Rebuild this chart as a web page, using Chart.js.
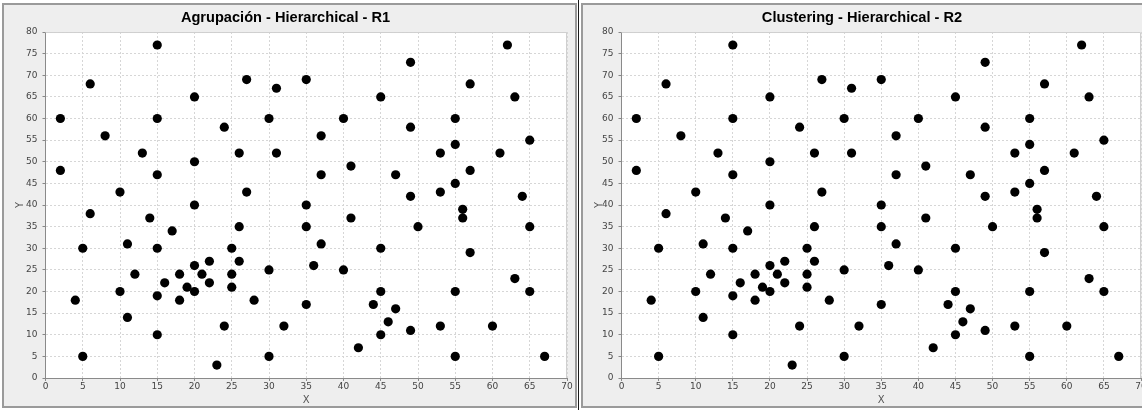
<!DOCTYPE html>
<html>
<head>
<meta charset="utf-8">
<script src="https://cdn.jsdelivr.net/npm/chart.js@4"></script>
<style>
    html, body { margin: 0; padding: 0; background: #fff; overflow: hidden; }
    body { width: 1142px; height: 410px; position: relative; }
    .panel {
        position: absolute;
        top: 3px;
        height: 405px;
        box-sizing: border-box;
        border: 2px solid #9a9a9a;
        background: #eeeeee;
    }
    .panel canvas { display: block; }
    #divider { position: absolute; left: 578px; top: 0; width: 1px; height: 410px; background: #1a1a1a; }
</style>
</head>
<body>
<div class="panel" style="left:2px; width:575px;"><canvas id="chartR1" width="571" height="401"></canvas></div>
<div id="divider"></div>
<div class="panel" style="left:581px; width:570px;"><canvas id="chartR2" width="566" height="401"></canvas></div>

<script>
// Point coordinates (same sample plotted in both panels)
const xValues = [2, 2, 4, 5, 5, 6, 6, 8, 10, 10,
    11, 11, 12, 13, 14, 15, 15, 15, 15, 15,
    15, 16, 17, 18, 18, 19, 20, 20, 20, 20,
    20, 21, 22, 22, 23, 24, 24, 25, 25, 25,
    26, 26, 26, 27, 27, 28, 30, 30, 30, 31,
    31, 32, 35, 35, 35, 35, 36, 37, 37, 37,
    40, 40, 41, 41, 42, 44, 45, 45, 45, 45,
    46, 47, 47, 49, 49, 49, 49, 50, 53, 53,
    53, 55, 55, 55, 55, 55, 56, 56, 57, 57,
    57, 60, 61, 62, 63, 63, 64, 65, 65, 65,
    67];
const yValues = [60, 48, 18, 30, 5, 68, 38, 56, 43, 20,
    31, 14, 24, 52, 37, 77, 60, 47, 30, 19,
    10, 22, 34, 24, 18, 21, 65, 50, 40, 26,
    20, 24, 27, 22, 3, 58, 12, 30, 24, 21,
    52, 35, 27, 69, 43, 18, 60, 25, 5, 67,
    52, 12, 69, 40, 35, 17, 26, 56, 47, 31,
    60, 25, 49, 37, 7, 17, 65, 30, 20, 10,
    13, 47, 16, 73, 58, 42, 11, 35, 52, 43,
    12, 60, 54, 45, 20, 5, 39, 37, 68, 48,
    29, 12, 52, 77, 65, 23, 42, 55, 35, 20,
    5];

const chartTitles = ['Agrupación - Hierarchical - R1', 'Clustering - Hierarchical - R2'];
const xRange = [0, 70];
const yRange = [0, 80];
const tickStep = 5;

// white plot area with a thin frame, like the Java chart
const plotFrame = {
    id: 'plotFrame',
    beforeDraw(chart) {
        const { ctx, chartArea: a } = chart;
        ctx.save();
        ctx.fillStyle = '#ffffff';
        ctx.fillRect(a.left, a.top, a.width, a.height);
        ctx.restore();
    },
    beforeDatasetsDraw(chart) {
        const { ctx, chartArea: a } = chart;
        ctx.save();
        ctx.strokeStyle = '#cfcfcf';
        ctx.lineWidth = 1;
        ctx.beginPath();
        ctx.moveTo(a.left, a.top + 0.5);
        ctx.lineTo(a.right - 0.5, a.top + 0.5);
        ctx.lineTo(a.right - 0.5, a.bottom);
        ctx.stroke();
        ctx.restore();
    }
};

function makeScatter(canvasId, title, yAxisWidth) {
    const points = xValues.map((x, i) => ({ x: x, y: yValues[i] }));
    const tickFont = { family: "'DejaVu Sans', sans-serif", size: 9 };
    const titleFont = { family: "'DejaVu Sans', sans-serif", size: 10 };

    return new Chart(document.getElementById(canvasId), {
        type: 'scatter',
        data: {
            datasets: [{
                data: points,
                backgroundColor: '#000000',
                borderWidth: 0,
                pointRadius: 4.6,
                pointHoverRadius: 4.6
            }]
        },
        options: {
            responsive: false,
            animation: false,
            events: [],
            layout: { padding: { left: 0, right: 8, top: 0, bottom: 0 } },
            plugins: {
                legend: { display: false },
                tooltip: { enabled: false },
                title: {
                    display: true,
                    text: title,
                    color: '#000000',
                    font: { family: "'Liberation Sans', Arial, sans-serif", size: 14.6, weight: 'bold' },
                    padding: { top: 4, bottom: 5.5 }
                }
            },
            scales: {
                x: {
                    type: 'linear',
                    min: xRange[0],
                    max: xRange[1],
                    afterFit: function(scale) { scale.height = 28; },
                    ticks: {
                        stepSize: tickStep,
                        font: tickFont,
                        color: '#444444',
                        padding: 0,
                        maxRotation: 0
                    },
                    grid: {
                        color: '#d6d6d6',
                        tickColor: '#888888',
                        tickLength: 3,
                        tickBorderDash: []
                    },
                    border: { color: '#8a8a8a', dash: [2, 2] },
                    title: {
                        display: true,
                        text: 'X',
                        font: titleFont,
                        color: '#555555',
                        padding: { top: 0, bottom: 0 }
                    }
                },
                y: {
                    type: 'linear',
                    min: yRange[0],
                    max: yRange[1],
                    afterFit: function(scale) { scale.width = yAxisWidth; },
                    ticks: {
                        stepSize: tickStep,
                        font: tickFont,
                        color: '#444444',
                        padding: 5
                    },
                    grid: {
                        color: '#d6d6d6',
                        tickColor: '#888888',
                        tickLength: 3,
                        tickBorderDash: []
                    },
                    border: { color: '#8a8a8a', dash: [2, 2] },
                    title: {
                        display: true,
                        text: 'Y',
                        font: titleFont,
                        color: '#555555',
                        padding: { top: 10, bottom: 0 }
                    }
                }
            }
        },
        plugins: [plotFrame]
    });
}

document.addEventListener('DOMContentLoaded', () => {
    makeScatter('chartR1', chartTitles[0], 41.5);
    makeScatter('chartR2', chartTitles[1], 38.5);
});
</script>
</body>
</html>
